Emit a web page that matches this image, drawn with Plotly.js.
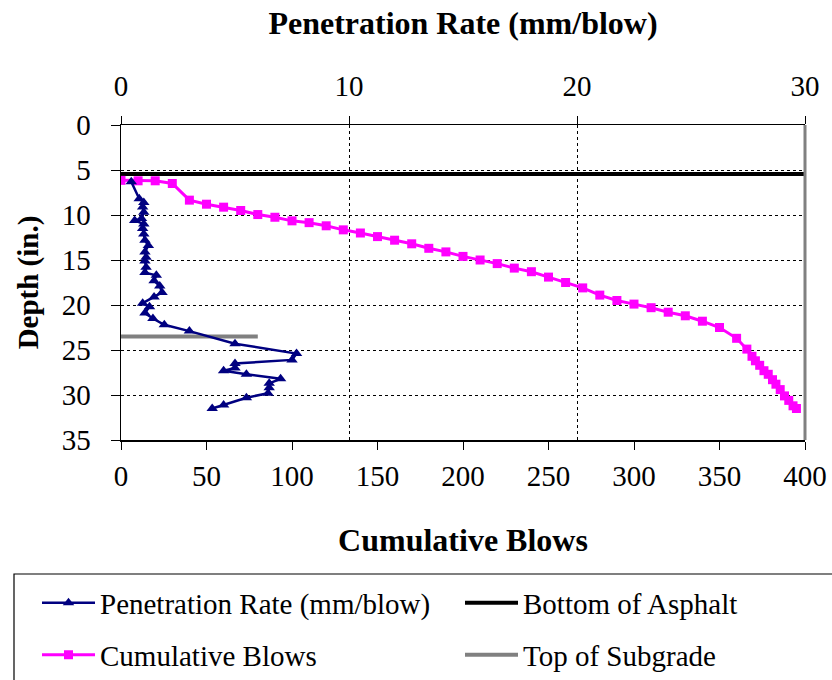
<!DOCTYPE html>
<html><head><meta charset="utf-8">
<script src="https://cdn.plot.ly/plotly-3.0.1.min.js"></script>
<style>html,body{margin:0;padding:0;background:#fff;}</style>
</head><body><div id="chart" style="width:832px;height:680px;"></div>
<script>
// Penetration rate (mm/blow) vs depth (in.)
const penDepth = [6.3, 8.2, 8.6, 9.1, 9.7, 10.4, 10.6, 11.0, 11.5, 12.1, 12.8, 13.4, 14.1, 14.7, 15.1, 15.8, 16.4, 16.7, 17.3, 17.9, 18.6, 19.1, 19.8, 20.2, 20.9, 21.5, 22.2, 22.9, 24.3, 25.4, 26.1, 26.5, 27.0, 27.3, 27.7, 28.2, 28.7, 29.2, 29.8, 30.3, 31.1, 31.5];
const penRate  = [0.45, 0.8, 1.0, 0.95, 1.0, 0.9, 0.6, 1.0, 0.95, 1.0, 1.05, 1.2, 1.05, 1.1, 1.05, 1.1, 1.05, 1.55, 1.45, 1.7, 1.8, 1.45, 0.95, 1.25, 1.05, 1.4, 1.9, 3.0, 5.0, 7.7, 7.5, 5.0, 5.0, 4.5, 5.5, 7.0, 6.5, 6.5, 6.45, 5.5, 4.5, 4.0];

// Cumulative blows vs depth (in.)
const cumBlows   = [0, 10, 20, 30, 40, 50, 60, 70, 80, 90, 100, 110, 120, 130, 140, 150, 160, 170, 180, 190, 200, 210, 220, 230, 240, 250, 260, 270, 280, 290, 300, 310, 320, 330, 340, 350, 360, 366, 369, 371, 373.5, 376, 378.5, 381, 383, 385.5, 388, 390.5, 393, 395];
const blowsDepth = [6.15, 6.2, 6.2, 6.5, 8.35, 8.8, 9.13, 9.5, 9.95, 10.25, 10.65, 10.85, 11.2, 11.65, 12.0, 12.4, 12.8, 13.2, 13.7, 14.1, 14.6, 15.0, 15.4, 15.9, 16.3, 16.9, 17.5, 18.1, 18.9, 19.5, 19.9, 20.3, 20.8, 21.2, 21.8, 22.5, 23.7, 24.9, 25.7, 26.2, 26.7, 27.3, 27.7, 28.3, 28.8, 29.4, 30.1, 30.6, 31.2, 31.5];

// Layer boundaries
const asphaltDepth = 5.45;
const asphaltBlows = [0, 400];
const subgradeDepth = 23.5;
const subgradeBlows = [0, 80];

// Tick values
const blowTicks = [0, 50, 100, 150, 200, 250, 300, 350, 400];
const rateTicks = [0, 10, 20, 30];
const depthTicks = [0, 5, 10, 15, 20, 25, 30, 35];

const FONT = 'Liberation Serif, Times New Roman, serif';

const traces = [
  {x: asphaltBlows, y: asphaltBlows.map(() => asphaltDepth), xaxis: 'x', yaxis: 'y',
   mode: 'lines', name: 'Bottom of Asphalt', line: {color: '#000000', width: 4},
   legend: 'legend2', hoverinfo: 'skip'},
  {x: subgradeBlows, y: subgradeBlows.map(() => subgradeDepth), xaxis: 'x', yaxis: 'y',
   mode: 'lines', name: 'Top of Subgrade', line: {color: '#808080', width: 4},
   legend: 'legend4', hoverinfo: 'skip'},
  {x: cumBlows, y: blowsDepth, xaxis: 'x', yaxis: 'y', mode: 'lines+markers',
   name: 'Cumulative Blows', line: {color: '#FF00FF', width: 3},
   marker: {symbol: 'square', size: 9, color: '#FF00FF'},
   legend: 'legend3'},
  {x: penRate, y: penDepth, xaxis: 'x2', yaxis: 'y', mode: 'lines+markers',
   name: 'Penetration Rate (mm/blow)', line: {color: '#000080', width: 2.5},
   marker: {symbol: 'triangle-up', size: 10, color: '#000080'},
   legend: 'legend'}
];

// pixel helpers for layout placement
const L = 121, R = 805, T = 125, B = 440, W = 832, H = 680;
const px = v => (v - L) / (R - L);
const py = v => (B - v) / (B - T);

const axisFont = {family: FONT, size: 29, color: '#000'};
const titleFont = {family: FONT, size: 32, color: '#000', weight: 'bold'};
const legFont = {family: FONT, size: 29, color: '#000'};
const legBox = (x, y) => ({
  orientation: 'v', xref: 'paper', yref: 'container',
  x: px(x), y: 1 - y / H, xanchor: 'left', yanchor: 'middle',
  bgcolor: 'rgba(0,0,0,0)', borderwidth: 0, itemwidth: 53, font: legFont
});

const layout = {
  width: W, height: H,
  margin: {l: L, r: W - R, t: T, b: H - B, pad: 0},
  paper_bgcolor: '#fff', plot_bgcolor: '#fff',
  font: {family: FONT, color: '#000'},
  showlegend: true,
  xaxis: {
    range: [0, 400], tickvals: blowTicks, ticktext: blowTicks.map(String),
    showgrid: false, zeroline: false, showline: true, linecolor: '#000', linewidth: 1.5,
    ticks: 'outside', ticklen: 8, tickwidth: 1, tickcolor: '#000',
    tickfont: axisFont, ticklabelstandoff: 2, automargin: false,
    title: {text: '<b>Cumulative Blows</b>', font: titleFont, standoff: 37}
  },
  xaxis2: {
    range: [0, 30], tickvals: rateTicks, ticktext: rateTicks.map(String),
    overlaying: 'x', side: 'top', anchor: 'y',
    showgrid: true, gridcolor: '#000', gridwidth: 1, griddash: 'dot',
    zeroline: false, showline: true, linecolor: '#000', linewidth: 1.5,
    ticks: 'outside', ticklen: 8, tickwidth: 1, tickcolor: '#000',
    tickfont: axisFont, ticklabelstandoff: 8, automargin: false,
    title: {text: '<b>Penetration Rate (mm/blow)</b>', font: titleFont, standoff: 25}
  },
  yaxis: {
    range: [35, 0], tickvals: depthTicks, ticktext: depthTicks.map(String),
    showgrid: true, gridcolor: '#000', gridwidth: 1, griddash: 'dot',
    zeroline: false, showline: true, linecolor: '#000', linewidth: 1.5,
    ticks: 'outside', ticklen: 9, tickwidth: 1, tickcolor: '#000',
    tickfont: axisFont, ticklabelstandoff: 14, automargin: false,
    title: {text: '<b>Depth (in.)</b>', font: {family: FONT, size: 29, color: '#000', weight: 'bold'}, standoff: 14}
  },
  legend: legBox(37, 603),
  legend2: legBox(460, 603),
  legend3: legBox(37, 655),
  legend4: legBox(460, 655),
  shapes: [
    // right plot border (grey)
    {type: 'line', xref: 'paper', yref: 'paper', x0: 1, x1: 1, y0: 0, y1: 1,
     line: {color: '#808080', width: 3}},
    // legend frame
    {type: 'rect', xref: 'paper', yref: 'paper', x0: px(14), x1: px(845), y0: py(695), y1: py(574),
     line: {color: '#000', width: 1.2}, fillcolor: 'rgba(0,0,0,0)', layer: 'below'}
  ]
};

Plotly.newPlot('chart', traces, layout, {staticPlot: true, displayModeBar: false});
</script>
</body></html>
